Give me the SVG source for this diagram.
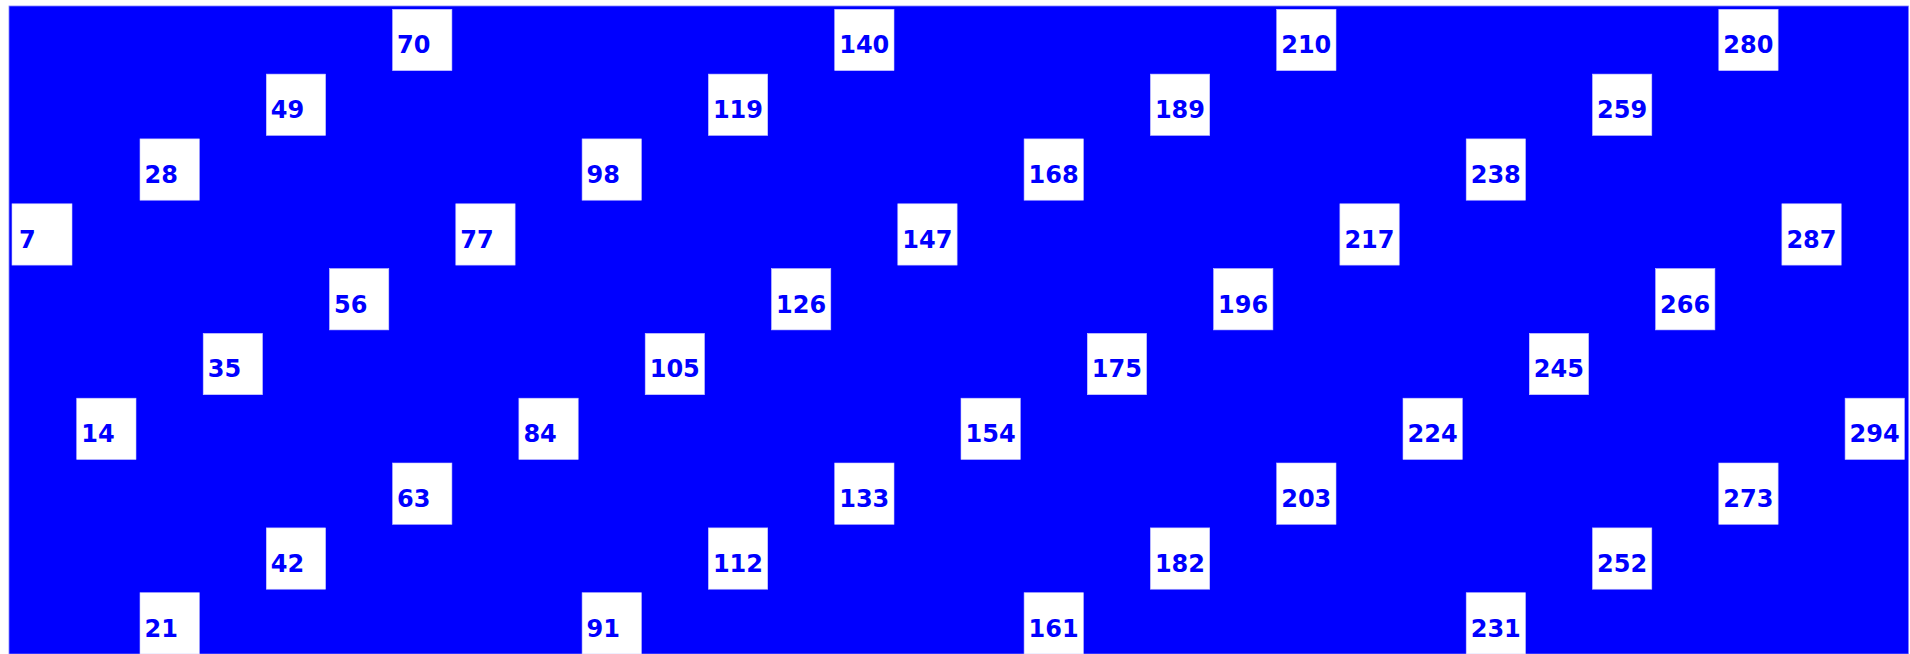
<svg xmlns="http://www.w3.org/2000/svg" width="1910" height="654" viewBox="0 0 1910 654">
<style>
.cell rect{fill:#ffffff;stroke:#c8c8ff;stroke-width:0.6}
.cell text{font-family:"DejaVu Sans","Liberation Sans",sans-serif;font-weight:bold;font-size:24px;fill:#0000ff}
</style>
<rect x="0" y="0" width="1910" height="654" fill="#ffffff"/>
<rect x="9" y="6" width="1899.5" height="648" fill="#0000ff" stroke="#8080ff" stroke-width="0.8"/>
<g id="connectors"></g>
<g id="nodes">
<g id="n7" class="cell" transform="translate(12,203.8)"><rect width="60" height="61.3"/><text x="7" y="44">7</text></g>
<g id="n14" class="cell" transform="translate(76.7,398.2)"><rect width="59.3" height="61.3"/><text x="4.5" y="44">14</text></g>
<g id="n21" class="cell" transform="translate(140,592.7)"><rect width="59.3" height="61.3"/><text x="4.5" y="44">21</text></g>
<g id="n28" class="cell" transform="translate(140,138.9)"><rect width="59.3" height="61.3"/><text x="4.5" y="44">28</text></g>
<g id="n35" class="cell" transform="translate(203.2,333.4)"><rect width="59.3" height="61.3"/><text x="4.5" y="44">35</text></g>
<g id="n42" class="cell" transform="translate(266.3,527.9)"><rect width="59.3" height="61.3"/><text x="4.5" y="44">42</text></g>
<g id="n49" class="cell" transform="translate(266.3,74.1)"><rect width="59.3" height="61.3"/><text x="4.5" y="44">49</text></g>
<g id="n56" class="cell" transform="translate(329.5,268.6)"><rect width="59.3" height="61.3"/><text x="4.5" y="44">56</text></g>
<g id="n63" class="cell" transform="translate(392.6,463)"><rect width="59.3" height="61.3"/><text x="4.5" y="44">63</text></g>
<g id="n70" class="cell" transform="translate(392.6,9.3)"><rect width="59.3" height="61.3"/><text x="4.5" y="44">70</text></g>
<g id="n77" class="cell" transform="translate(455.8,203.8)"><rect width="59.3" height="61.3"/><text x="4.5" y="44">77</text></g>
<g id="n84" class="cell" transform="translate(518.9,398.2)"><rect width="59.3" height="61.3"/><text x="4.5" y="44">84</text></g>
<g id="n91" class="cell" transform="translate(582.1,592.7)"><rect width="59.3" height="61.3"/><text x="4.5" y="44">91</text></g>
<g id="n98" class="cell" transform="translate(582.1,138.9)"><rect width="59.3" height="61.3"/><text x="4.5" y="44">98</text></g>
<g id="n105" class="cell" transform="translate(645.2,333.4)"><rect width="59.3" height="61.3"/><text x="4.5" y="44">105</text></g>
<g id="n112" class="cell" transform="translate(708.4,527.9)"><rect width="59.3" height="61.3"/><text x="4.5" y="44">112</text></g>
<g id="n119" class="cell" transform="translate(708.4,74.1)"><rect width="59.3" height="61.3"/><text x="4.5" y="44">119</text></g>
<g id="n126" class="cell" transform="translate(771.5,268.6)"><rect width="59.3" height="61.3"/><text x="4.5" y="44">126</text></g>
<g id="n133" class="cell" transform="translate(834.7,463)"><rect width="59.3" height="61.3"/><text x="4.5" y="44">133</text></g>
<g id="n140" class="cell" transform="translate(834.7,9.3)"><rect width="59.3" height="61.3"/><text x="4.5" y="44">140</text></g>
<g id="n147" class="cell" transform="translate(897.8,203.8)"><rect width="59.3" height="61.3"/><text x="4.5" y="44">147</text></g>
<g id="n154" class="cell" transform="translate(961,398.2)"><rect width="59.3" height="61.3"/><text x="4.5" y="44">154</text></g>
<g id="n161" class="cell" transform="translate(1024.1,592.7)"><rect width="59.3" height="61.3"/><text x="4.5" y="44">161</text></g>
<g id="n168" class="cell" transform="translate(1024.1,138.9)"><rect width="59.3" height="61.3"/><text x="4.5" y="44">168</text></g>
<g id="n175" class="cell" transform="translate(1087.3,333.4)"><rect width="59.3" height="61.3"/><text x="4.5" y="44">175</text></g>
<g id="n182" class="cell" transform="translate(1150.4,527.9)"><rect width="59.3" height="61.3"/><text x="4.5" y="44">182</text></g>
<g id="n189" class="cell" transform="translate(1150.4,74.1)"><rect width="59.3" height="61.3"/><text x="4.5" y="44">189</text></g>
<g id="n196" class="cell" transform="translate(1213.6,268.6)"><rect width="59.3" height="61.3"/><text x="4.5" y="44">196</text></g>
<g id="n203" class="cell" transform="translate(1276.7,463)"><rect width="59.3" height="61.3"/><text x="4.5" y="44">203</text></g>
<g id="n210" class="cell" transform="translate(1276.7,9.3)"><rect width="59.3" height="61.3"/><text x="4.5" y="44">210</text></g>
<g id="n217" class="cell" transform="translate(1339.9,203.8)"><rect width="59.3" height="61.3"/><text x="4.5" y="44">217</text></g>
<g id="n224" class="cell" transform="translate(1403,398.2)"><rect width="59.3" height="61.3"/><text x="4.5" y="44">224</text></g>
<g id="n231" class="cell" transform="translate(1466.2,592.7)"><rect width="59.3" height="61.3"/><text x="4.5" y="44">231</text></g>
<g id="n238" class="cell" transform="translate(1466.2,138.9)"><rect width="59.3" height="61.3"/><text x="4.5" y="44">238</text></g>
<g id="n245" class="cell" transform="translate(1529.3,333.4)"><rect width="59.3" height="61.3"/><text x="4.5" y="44">245</text></g>
<g id="n252" class="cell" transform="translate(1592.5,527.9)"><rect width="59.3" height="61.3"/><text x="4.5" y="44">252</text></g>
<g id="n259" class="cell" transform="translate(1592.5,74.1)"><rect width="59.3" height="61.3"/><text x="4.5" y="44">259</text></g>
<g id="n266" class="cell" transform="translate(1655.6,268.6)"><rect width="59.3" height="61.3"/><text x="4.5" y="44">266</text></g>
<g id="n273" class="cell" transform="translate(1718.8,463)"><rect width="59.3" height="61.3"/><text x="4.5" y="44">273</text></g>
<g id="n280" class="cell" transform="translate(1718.8,9.3)"><rect width="59.3" height="61.3"/><text x="4.5" y="44">280</text></g>
<g id="n287" class="cell" transform="translate(1781.9,203.8)"><rect width="59.3" height="61.3"/><text x="4.5" y="44">287</text></g>
<g id="n294" class="cell" transform="translate(1845.1,398.2)"><rect width="59.3" height="61.3"/><text x="4.5" y="44">294</text></g>
</g>
</svg>
